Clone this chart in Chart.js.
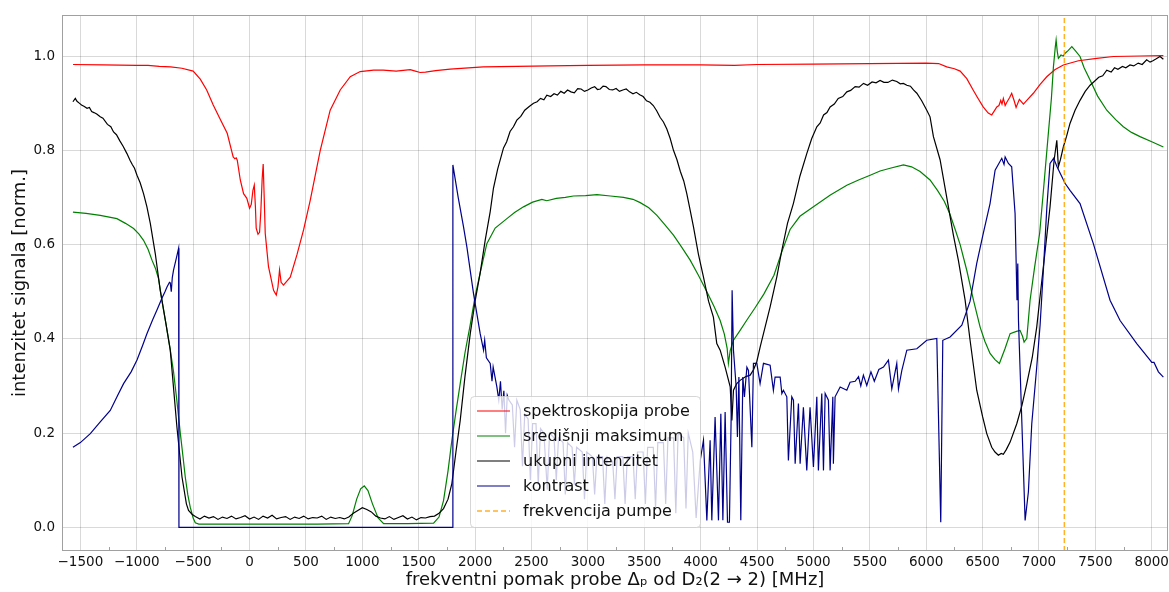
<!DOCTYPE html>
<html>
<head>
<meta charset="utf-8">
<script src="https://cdn.jsdelivr.net/npm/chart.js@4.4.1/dist/chart.umd.min.js"></script>
<style>
  html, body { margin: 0; padding: 0; background: #fff; }
</style>
</head>
<body>
<canvas id="chart" width="1169" height="592"></canvas>
<script>
// osi
const X_MIN = -1663, X_MAX = 8144;
const Y_MIN = -0.05, Y_MAX = 1.087;
const X_TICKS = [-1500, -1000, -500, 0, 500, 1000, 1500, 2000, 2500, 3000, 3500, 4000, 4500, 5000, 5500, 6000, 6500, 7000, 7500, 8000];
const Y_TICKS = [0.0, 0.2, 0.4, 0.6, 0.8, 1.0];
const PUMP = 7225;

const LABELS = ['spektroskopija probe', 'središnji maksimum', 'ukupni intenzitet', 'kontrast', 'frekvencija pumpe'];

// spektroskopija probe
const PROBE_X = [-1565, -1300, -1000, -900, -800, -700, -600, -500, -437, -380, -322, -260, -198, -160, -145, -130, -118, -109, -82, -53, -24, 0, 15, 30, 42, 52, 59, 75, 89, 100, 112, 121, 130, 139, 168, 213, 237, 252, 266, 280, 301, 361, 420, 479, 538, 627, 715, 804, 893, 981, 1100, 1185, 1300, 1425, 1470, 1513, 1560, 1650, 1779, 2072, 2666, 3000, 3500, 4000, 4300, 4500, 5000, 5500, 6000, 6110, 6182, 6250, 6301, 6360, 6416, 6460, 6505, 6550, 6581, 6600, 6626, 6645, 6661, 6672, 6684, 6700, 6715, 6740, 6758, 6780, 6797, 6826, 6862, 6900, 6950, 7010, 7069, 7140, 7216, 7350, 7512, 7660, 7900, 8103];
const PROBE_Y = [0.982, 0.981, 0.980, 0.980, 0.978, 0.977, 0.974, 0.968, 0.951, 0.928, 0.896, 0.866, 0.836, 0.800, 0.786, 0.782, 0.784, 0.779, 0.737, 0.708, 0.698, 0.677, 0.685, 0.715, 0.726, 0.680, 0.635, 0.622, 0.626, 0.670, 0.740, 0.771, 0.700, 0.624, 0.553, 0.503, 0.493, 0.510, 0.546, 0.520, 0.514, 0.531, 0.578, 0.631, 0.694, 0.800, 0.885, 0.928, 0.956, 0.967, 0.970, 0.970, 0.968, 0.971, 0.968, 0.965, 0.966, 0.969, 0.972, 0.977, 0.979, 0.980, 0.981, 0.981, 0.980, 0.982, 0.983, 0.984, 0.985, 0.984, 0.977, 0.973, 0.968, 0.952, 0.928, 0.910, 0.892, 0.879, 0.875, 0.882, 0.892, 0.895, 0.906, 0.898, 0.910, 0.895, 0.902, 0.912, 0.921, 0.905, 0.891, 0.908, 0.898, 0.908, 0.921, 0.940, 0.956, 0.971, 0.981, 0.990, 0.995, 0.999, 1.000, 1.001];

// središnji maksimum
const CENTRAL_X = [-1566, -1450, -1324, -1176, -1100, -1028, -980, -940, -900, -865, -835, -807, -776, -740, -705, -674, -645, -614, -590, -570, -548, -526, -500, -481, -450, -200, 200, 600, 878, 910, 950, 985, 1017, 1050, 1090, 1140, 1189, 1400, 1632, 1680, 1720, 1760, 1794, 1830, 1868, 1910, 1957, 2000, 2045, 2104, 2178, 2282, 2350, 2429, 2510, 2592, 2636, 2720, 2800, 2872, 2980, 3080, 3200, 3316, 3400, 3464, 3540, 3612, 3680, 3759, 3830, 3907, 3980, 4055, 4120, 4173, 4210, 4235, 4246, 4262, 4291, 4350, 4410, 4480, 4560, 4650, 4720, 4793, 4880, 5000, 5150, 5296, 5400, 5503, 5591, 5680, 5798, 5870, 5946, 6034, 6100, 6160, 6210, 6260, 6301, 6360, 6419, 6478, 6520, 6566, 6610, 6649, 6700, 6744, 6800, 6832, 6855, 6868, 6892, 6921, 6960, 7006, 7045, 7083, 7110, 7128, 7145, 7152, 7162, 7172, 7195, 7215, 7232, 7260, 7291, 7320, 7364, 7400, 7453, 7520, 7601, 7680, 7748, 7820, 7896, 8000, 8103];
const CENTRAL_Y = [0.669, 0.666, 0.662, 0.655, 0.645, 0.634, 0.622, 0.609, 0.590, 0.567, 0.550, 0.528, 0.480, 0.430, 0.380, 0.330, 0.270, 0.200, 0.150, 0.107, 0.070, 0.043, 0.020, 0.010, 0.007, 0.007, 0.007, 0.007, 0.008, 0.025, 0.060, 0.082, 0.088, 0.078, 0.050, 0.020, 0.008, 0.008, 0.009, 0.022, 0.057, 0.120, 0.185, 0.245, 0.305, 0.370, 0.430, 0.490, 0.540, 0.602, 0.635, 0.655, 0.668, 0.680, 0.690, 0.696, 0.693, 0.698, 0.700, 0.703, 0.704, 0.706, 0.703, 0.700, 0.696, 0.689, 0.678, 0.662, 0.643, 0.620, 0.595, 0.567, 0.535, 0.500, 0.468, 0.439, 0.410, 0.380, 0.348, 0.375, 0.397, 0.418, 0.440, 0.465, 0.495, 0.535, 0.585, 0.632, 0.660, 0.680, 0.705, 0.726, 0.737, 0.747, 0.756, 0.762, 0.769, 0.765, 0.755, 0.737, 0.715, 0.692, 0.665, 0.630, 0.600, 0.545, 0.482, 0.425, 0.395, 0.369, 0.356, 0.348, 0.380, 0.411, 0.416, 0.418, 0.405, 0.393, 0.401, 0.482, 0.550, 0.624, 0.730, 0.836, 0.910, 0.977, 1.020, 1.034, 1.010, 0.995, 1.002, 1.000, 1.006, 1.012, 1.020, 1.012, 0.999, 0.975, 0.949, 0.915, 0.885, 0.865, 0.850, 0.838, 0.829, 0.818, 0.807];

// ukupni intenzitet
const TOTAL_X = [-1566, -1545, -1530, -1510, -1490, -1465, -1441, -1420, -1400, -1380, -1355, -1324, -1300, -1260, -1230, -1206, -1180, -1150, -1120, -1087, -1060, -1040, -1020, -998, -970, -940, -910, -880, -836, -792, -777, -740, -703, -644, -599, -560, -541, -510, -481, -440, -400, -360, -320, -280, -240, -200, -160, -120, -80, -40, 0, 40, 80, 120, 160, 200, 240, 280, 320, 360, 400, 440, 480, 520, 560, 600, 640, 680, 720, 760, 800, 840, 880, 920, 960, 1000, 1040, 1080, 1120, 1160, 1200, 1240, 1280, 1320, 1360, 1400, 1440, 1480, 1520, 1560, 1600, 1640, 1680, 1720, 1760, 1794, 1830, 1868, 1910, 1957, 2000, 2045, 2090, 2134, 2163, 2200, 2252, 2280, 2310, 2340, 2370, 2405, 2440, 2480, 2518, 2550, 2580, 2610, 2636, 2670, 2700, 2730, 2760, 2790, 2820, 2850, 2880, 2910, 2940, 2970, 3000, 3030, 3060, 3085, 3110, 3135, 3160, 3190, 3220, 3250, 3280, 3310, 3340, 3370, 3400, 3430, 3460, 3490, 3520, 3550, 3580, 3610, 3640, 3670, 3700, 3730, 3759, 3790, 3820, 3850, 3877, 3905, 3936, 3980, 4025, 4070, 4113, 4143, 4173, 4217, 4262, 4277, 4291, 4320, 4350, 4400, 4439, 4470, 4498, 4530, 4557, 4616, 4675, 4720, 4770, 4822, 4880, 4941, 4985, 5030, 5060, 5090, 5120, 5148, 5185, 5220, 5260, 5296, 5330, 5370, 5405, 5444, 5480, 5520, 5555, 5591, 5625, 5660, 5700, 5739, 5770, 5798, 5828, 5860, 5887, 5917, 5960, 6005, 6034, 6064, 6123, 6182, 6241, 6285, 6345, 6389, 6448, 6500, 6537, 6581, 6610, 6640, 6665, 6684, 6710, 6744, 6803, 6850, 6892, 6940, 6980, 7006, 7039, 7070, 7098, 7134, 7158, 7172, 7190, 7216, 7245, 7275, 7320, 7364, 7410, 7453, 7490, 7530, 7565, 7601, 7640, 7670, 7700, 7740, 7770, 7807, 7840, 7880, 7915, 7955, 7985, 8010, 8040, 8073, 8103];
const TOTAL_Y = [0.903, 0.910, 0.904, 0.900, 0.896, 0.893, 0.889, 0.891, 0.882, 0.880, 0.877, 0.871, 0.868, 0.855, 0.850, 0.839, 0.833, 0.820, 0.808, 0.793, 0.779, 0.770, 0.762, 0.747, 0.731, 0.708, 0.680, 0.645, 0.581, 0.503, 0.482, 0.430, 0.376, 0.213, 0.107, 0.050, 0.036, 0.028, 0.023, 0.018, 0.024, 0.020, 0.023, 0.017, 0.022, 0.019, 0.024, 0.018, 0.021, 0.025, 0.018, 0.022, 0.017, 0.024, 0.020, 0.026, 0.018, 0.021, 0.023, 0.017, 0.022, 0.019, 0.024, 0.018, 0.021, 0.020, 0.024, 0.017, 0.022, 0.019, 0.021, 0.018, 0.022, 0.030, 0.036, 0.042, 0.038, 0.033, 0.024, 0.020, 0.018, 0.023, 0.017, 0.021, 0.025, 0.018, 0.022, 0.016, 0.021, 0.020, 0.023, 0.024, 0.030, 0.040, 0.060, 0.093, 0.160, 0.227, 0.320, 0.411, 0.480, 0.540, 0.610, 0.670, 0.720, 0.760, 0.805, 0.818, 0.840, 0.850, 0.864, 0.872, 0.885, 0.893, 0.900, 0.903, 0.910, 0.907, 0.917, 0.914, 0.920, 0.917, 0.925, 0.921, 0.928, 0.924, 0.922, 0.931, 0.930, 0.925, 0.928, 0.932, 0.935, 0.929, 0.930, 0.936, 0.935, 0.929, 0.928, 0.931, 0.925, 0.928, 0.930, 0.924, 0.920, 0.923, 0.918, 0.914, 0.905, 0.902, 0.895, 0.884, 0.870, 0.860, 0.845, 0.825, 0.800, 0.780, 0.755, 0.735, 0.708, 0.675, 0.638, 0.580, 0.531, 0.480, 0.446, 0.390, 0.376, 0.340, 0.298, 0.227, 0.291, 0.305, 0.312, 0.320, 0.323, 0.335, 0.352, 0.385, 0.411, 0.468, 0.531, 0.588, 0.645, 0.687, 0.745, 0.793, 0.825, 0.850, 0.858, 0.875, 0.880, 0.892, 0.898, 0.910, 0.914, 0.924, 0.927, 0.935, 0.934, 0.942, 0.938, 0.945, 0.943, 0.948, 0.944, 0.944, 0.949, 0.946, 0.941, 0.942, 0.938, 0.936, 0.928, 0.921, 0.905, 0.885, 0.871, 0.829, 0.780, 0.700, 0.620, 0.567, 0.482, 0.397, 0.291, 0.235, 0.199, 0.170, 0.160, 0.153, 0.157, 0.155, 0.165, 0.181, 0.220, 0.260, 0.305, 0.360, 0.425, 0.482, 0.553, 0.620, 0.680, 0.779, 0.821, 0.765, 0.780, 0.807, 0.830, 0.857, 0.885, 0.906, 0.925, 0.938, 0.946, 0.955, 0.958, 0.970, 0.966, 0.975, 0.972, 0.978, 0.975, 0.981, 0.979, 0.985, 0.982, 0.992, 0.987, 0.990, 0.994, 0.999, 0.993];

// kontrast
const CONTRAST_X = [-1566, -1500, -1412, -1320, -1235, -1170, -1117, -1050, -998, -950, -910, -860, -821, -777, -750, -732, -710, -703, -694, -685, -674, -650, -629, -626, 1800, 1803, 1850, 1897, 1927, 1986, 2045, 2075, 2085, 2100, 2134, 2150, 2160, 2193, 2210, 2225, 2240, 2255, 2270, 2285, 2300, 2330, 2350, 2370, 2400, 2420, 2440, 2470, 2490, 2510, 2540, 2560, 2580, 2610, 2640, 2660, 2700, 2720, 2740, 2780, 2800, 2820, 2860, 2880, 2900, 2950, 2970, 2990, 3040, 3060, 3080, 3130, 3150, 3170, 3220, 3240, 3260, 3310, 3330, 3350, 3400, 3420, 3440, 3490, 3510, 3530, 3580, 3600, 3620, 3670, 3690, 3710, 3760, 3780, 3800, 3850, 3870, 3890, 3930, 3960, 3996, 4025, 4055, 4084, 4099, 4128, 4158, 4179, 4197, 4217, 4238, 4255, 4270, 4279, 4291, 4315, 4326, 4339, 4356, 4374, 4388, 4410, 4424, 4454, 4468, 4498, 4527, 4557, 4616, 4645, 4660, 4705, 4720, 4734, 4764, 4778, 4808, 4823, 4838, 4867, 4882, 4911, 4941, 4970, 5000, 5030, 5044, 5074, 5089, 5104, 5133, 5148, 5172, 5177, 5192, 5237, 5296, 5325, 5370, 5400, 5420, 5443, 5473, 5510, 5540, 5580, 5621, 5665, 5695, 5739, 5754, 5784, 5828, 5917, 6005, 6094, 6129, 6147, 6212, 6316, 6389, 6448, 6507, 6566, 6611, 6670, 6690, 6700, 6729, 6758, 6788, 6805, 6812, 6818, 6877, 6906, 6936, 6980, 7010, 7040, 7070, 7098, 7130, 7160, 7231, 7275, 7364, 7482, 7630, 7719, 7867, 7985, 8000, 8020, 8059, 8103];
const CONTRAST_Y = [0.170, 0.180, 0.199, 0.225, 0.248, 0.280, 0.305, 0.330, 0.355, 0.385, 0.411, 0.440, 0.461, 0.486, 0.500, 0.510, 0.520, 0.519, 0.500, 0.530, 0.546, 0.570, 0.592, 0.000, 0.000, 0.769, 0.700, 0.638, 0.595, 0.496, 0.411, 0.376, 0.397, 0.360, 0.348, 0.310, 0.340, 0.298, 0.270, 0.310, 0.250, 0.290, 0.200, 0.280, 0.270, 0.260, 0.170, 0.270, 0.250, 0.130, 0.240, 0.230, 0.100, 0.220, 0.220, 0.090, 0.210, 0.200, 0.080, 0.200, 0.190, 0.100, 0.190, 0.180, 0.070, 0.180, 0.170, 0.090, 0.170, 0.160, 0.060, 0.160, 0.150, 0.070, 0.150, 0.150, 0.050, 0.150, 0.140, 0.060, 0.150, 0.150, 0.050, 0.150, 0.150, 0.060, 0.160, 0.160, 0.050, 0.170, 0.170, 0.040, 0.180, 0.180, 0.050, 0.190, 0.190, 0.030, 0.200, 0.190, 0.040, 0.200, 0.160, 0.020, 0.142, 0.185, 0.015, 0.185, 0.015, 0.234, 0.015, 0.241, 0.015, 0.245, 0.011, 0.011, 0.227, 0.503, 0.376, 0.298, 0.192, 0.319, 0.015, 0.319, 0.277, 0.340, 0.333, 0.170, 0.348, 0.348, 0.305, 0.348, 0.344, 0.291, 0.319, 0.319, 0.284, 0.291, 0.277, 0.142, 0.277, 0.270, 0.135, 0.263, 0.135, 0.255, 0.121, 0.255, 0.128, 0.277, 0.121, 0.284, 0.121, 0.284, 0.270, 0.121, 0.277, 0.135, 0.277, 0.298, 0.291, 0.308, 0.310, 0.320, 0.300, 0.323, 0.301, 0.330, 0.310, 0.335, 0.340, 0.355, 0.294, 0.348, 0.294, 0.333, 0.376, 0.379, 0.397, 0.401, 0.011, 0.397, 0.404, 0.429, 0.480, 0.560, 0.625, 0.687, 0.758, 0.783, 0.770, 0.786, 0.772, 0.765, 0.666, 0.482, 0.560, 0.440, 0.015, 0.075, 0.220, 0.340, 0.430, 0.550, 0.680, 0.772, 0.783, 0.765, 0.730, 0.715, 0.687, 0.602, 0.482, 0.439, 0.390, 0.355, 0.350, 0.350, 0.330, 0.319];

const FONT = 'DejaVu Sans';
const GRID = 'rgba(0,0,0,0.15)';
const SPINE = '#a0a0a0';
const TEXT = '#111';

const toPts = (xs, ys) => xs.map((x, i) => ({ x, y: ys[i] }));

function series(label, xs, ys, color, order, extra) {
    return {
        label,
        data: toPts(xs, ys),
        borderColor: color,
        backgroundColor: color,
        borderWidth: 1.2,
        pointRadius: 0,
        tension: 0,
        fill: false,
        order,
        ...extra,
    };
}

// okvir i sitne crtice na donjoj osi
const framePlugin = {
    id: 'frame',
    afterDatasetsDraw(chart) {
        const { ctx, chartArea: a, scales: { x } } = chart;
        ctx.save();
        ctx.strokeStyle = SPINE;
        ctx.lineWidth = 1;
        ctx.strokeRect(a.left + 0.5, a.top + 0.5, a.right - a.left - 1, a.bottom - a.top - 1);
        ctx.beginPath();
        for (let i = 0; i < X_TICKS.length - 1; i++) {
            const px = Math.round(x.getPixelForValue((X_TICKS[i] + X_TICKS[i + 1]) / 2)) + 0.5;
            ctx.moveTo(px, a.bottom);
            ctx.lineTo(px, a.bottom - 4);
        }
        ctx.stroke();
        ctx.restore();
    },
};

// legenda unutar grafa, kao u matplotlibu
const legendPlugin = {
    id: 'innerLegend',
    afterDraw(chart) {
        const { ctx } = chart;
        const box = { left: 470.5, top: 396.5, width: 230, height: 131 };
        ctx.save();
        ctx.beginPath();
        ctx.roundRect(box.left, box.top, box.width, box.height, 4);
        ctx.fillStyle = 'rgba(255,255,255,0.8)';
        ctx.fill();
        ctx.strokeStyle = 'rgba(204,204,204,0.8)';
        ctx.lineWidth = 1;
        ctx.stroke();
        ctx.font = '16px "' + FONT + '"';
        ctx.textBaseline = 'middle';
        ctx.textAlign = 'left';
        chart.data.datasets.forEach((ds, i) => {
            const y = 411 + i * 25;
            ctx.beginPath();
            ctx.setLineDash(ds.borderDash || []);
            ctx.strokeStyle = ds.borderColor;
            ctx.lineWidth = ds.borderWidth;
            ctx.moveTo(477, y);
            ctx.lineTo(510, y);
            ctx.stroke();
            ctx.setLineDash([]);
            ctx.fillStyle = TEXT;
            ctx.fillText(ds.label, 523, y + 1);
        });
        ctx.restore();
    },
};

const fmtX = v => (v < 0 ? '\u2212' + Math.abs(v) : String(v));

new Chart(document.getElementById('chart'), {
    type: 'line',
    data: {
        datasets: [
            series(LABELS[0], PROBE_X, PROBE_Y, '#ff0000', 5),
            series(LABELS[1], CENTRAL_X, CENTRAL_Y, '#008000', 4),
            series(LABELS[2], TOTAL_X, TOTAL_Y, '#000000', 3),
            series(LABELS[3], CONTRAST_X, CONTRAST_Y, '#00008b', 2),
            series(LABELS[4], [PUMP, PUMP], [Y_MIN, Y_MAX], 'rgba(255,165,0,0.85)', 1, { borderDash: [5, 3], borderWidth: 1.5 }),
        ],
    },
    options: {
        responsive: false,
        animation: false,
        devicePixelRatio: 1,
        layout: { padding: { top: 15, right: 1, left: 0, bottom: 0 } },
        plugins: {
            legend: { display: false },
            tooltip: { enabled: false },
        },
        scales: {
            x: {
                type: 'linear',
                min: X_MIN,
                max: X_MAX,
                afterBuildTicks: s => { s.ticks = X_TICKS.map(v => ({ value: v })); },
                afterFit: s => {
                    s.height = 41;
                    s.paddingLeft = 0;
                    s.paddingRight = 0;
                },
                grid: { color: GRID, lineWidth: 1, drawTicks: false },
                border: { display: false },
                ticks: {
                    font: { family: FONT, size: 13.5 },
                    color: TEXT,
                    padding: 3,
                    maxRotation: 0,
                    autoSkip: false,
                    callback: v => fmtX(v),
                },
                title: {
                    display: true,
                    text: 'frekventni pomak probe \u0394\u209a od D\u2082(2 \u2192 2) [MHz]',
                    font: { family: FONT, size: 18 },
                    color: TEXT,
                    padding: { top: 0, bottom: 1 },
                },
            },
            y: {
                min: Y_MIN,
                max: Y_MAX,
                afterBuildTicks: s => { s.ticks = Y_TICKS.map(v => ({ value: v })); },
                afterFit: s => {
                    s.width = 62;
                    s.paddingTop = 0;
                    s.paddingBottom = 0;
                },
                grid: { color: GRID, lineWidth: 1, drawTicks: false },
                border: { display: false },
                ticks: {
                    font: { family: FONT, size: 13.5 },
                    color: TEXT,
                    padding: 7,
                    callback: v => v.toFixed(1),
                },
                title: {
                    display: true,
                    text: 'intenzitet signala [norm.]',
                    font: { family: FONT, size: 18, lineHeight: 1 },
                    color: TEXT,
                    padding: { top: 11, bottom: 0 },
                },
            },
        },
    },
    plugins: [framePlugin, legendPlugin],
});
</script>
</body>
</html>
